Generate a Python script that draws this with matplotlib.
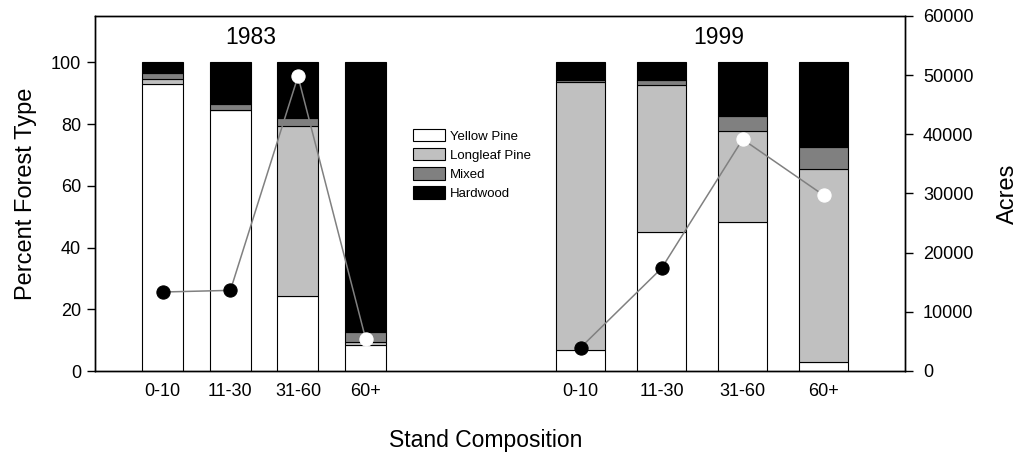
import matplotlib
matplotlib.use("Agg")
import matplotlib.pyplot as plt
from matplotlib.patches import Patch

plt.rcParams['font.family'] = ['Liberation Sans', 'DejaVu Sans']

# ---- data ----
classes = ["0-10", "11-30", "31-60", "60+"]
years = ["1983", "1999"]
types = ["Yellow Pine", "Longleaf Pine", "Mixed", "Hardwood"]
type_colors = ["#FFFFFF", "#C0C0C0", "#808080", "#000000"]

# percent of each forest type (stacked), per stand class
yellow_1983 = [93.1, 84.4, 24.4, 8.3]
longleaf_1983 = [1.4, 0.3, 55.1, 1.0]
mixed_1983 = [1.9, 1.9, 2.5, 3.2]
hardwood_1983 = [3.6, 13.4, 18.0, 87.5]

yellow_1999 = [6.8, 44.9, 48.3, 2.8]
longleaf_1999 = [86.8, 47.9, 29.6, 62.5]
mixed_1999 = [0.6, 1.6, 4.8, 7.4]
hardwood_1999 = [5.8, 5.6, 17.3, 27.3]

acres_1983 = [13350, 13630, 49800, 5460]
acres_1999 = [3940, 17360, 39160, 29700]
marker_fill_1983 = ["black", "black", "white", "white"]
marker_fill_1999 = ["black", "black", "white", "white"]

# ---- layout ----
W, H = 1020, 459
fig = plt.figure(figsize=(W / 100, H / 100), dpi=100)
L, R, T, B = 95, 905, 16, 371
ax = fig.add_axes([L / W, 1 - B / H, (R - L) / W, (B - T) / H])
ax2 = ax.twinx()

ax.set_xlim(0, R - L)
ax.set_ylim(0, 115)
ax2.set_ylim(0, 60000)

groups = [
    dict(start=67.8, step=67.6, width=41,
         stacks=[yellow_1983, longleaf_1983, mixed_1983, hardwood_1983],
         acres=acres_1983, fills=marker_fill_1983),
    dict(start=485.5, step=81.07, width=49,
         stacks=[yellow_1999, longleaf_1999, mixed_1999, hardwood_1999],
         acres=acres_1999, fills=marker_fill_1999),
]

all_pos = []
for g in groups:
    pos = [g["start"] + g["step"] * i for i in range(len(classes))]
    all_pos += pos
    bottom = [0.0] * len(classes)
    for vals, col in zip(g["stacks"], type_colors):
        ax.bar(pos, vals, width=g["width"], bottom=bottom, color=col,
               edgecolor="black", linewidth=0.8, zorder=2)
        bottom = [b + v for b, v in zip(bottom, vals)]
    ax2.plot(pos, g["acres"], color="#808080", linewidth=1.1, zorder=3)
    for x, y, f in zip(pos, g["acres"], g["fills"]):
        ax2.plot([x], [y], marker="o", markersize=9.5, markerfacecolor=f,
                 markeredgecolor=f, markeredgewidth=0.8, zorder=4)

ax.set_xticks(all_pos)
ax.set_xticklabels(classes * 2, fontsize=13)
ax.tick_params(axis="x", length=0, pad=9)
ax.set_yticks([0, 20, 40, 60, 80, 100])
ax.tick_params(axis="y", labelsize=13, length=6, width=1, direction="out", pad=4)
ax2.set_yticks([0, 10000, 20000, 30000, 40000, 50000, 60000])
ax2.tick_params(axis="y", labelsize=13, length=6, width=1, direction="out", pad=7)

for a in (ax, ax2):
    for s in a.spines.values():
        s.set_color("black")
        s.set_linewidth(1)

ax.set_ylabel("Percent Forest Type", fontsize=17, labelpad=10)
ax2.set_ylabel("Acres", fontsize=17, labelpad=17)

fig.text(486 / W, 1 - 440 / H, "Stand Composition", fontsize=16.5,
         ha="center", va="center")
fig.text(251 / W, 1 - 38 / H, years[0], fontsize=16.5, ha="center", va="center")
fig.text(719 / W, 1 - 38 / H, years[1], fontsize=16.5, ha="center", va="center")

handles = [Patch(facecolor=c, edgecolor="black", linewidth=0.8) for c in type_colors]
fig.legend(handles, types, loc="upper left",
           bbox_to_anchor=(413 / W, 1 - 129 / H), fontsize=9.5,
           frameon=False, borderpad=0, borderaxespad=0,
           handlelength=2.4, handleheight=1.05, handletextpad=0.4,
           labelspacing=0.42)

fig.savefig("out.png", dpi=100)
